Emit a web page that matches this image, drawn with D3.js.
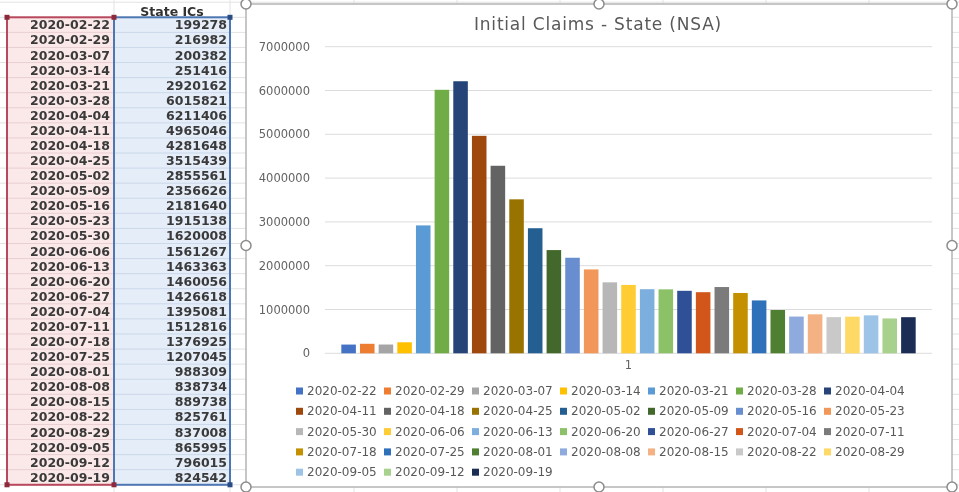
<!DOCTYPE html>
<html>
<head>
<meta charset="utf-8">
<script src="https://cdn.jsdelivr.net/npm/d3@7"></script>
<style>
    html, body { margin: 0; padding: 0; background: #fff; overflow: hidden; }
    #visualization svg { display: block; filter: blur(0.35px); }
</style>
</head>
<body>
<div id="visualization"></div>
<script>
// week ending dates (table rows and chart series)
const weeks = [
    "2020-02-22", "2020-02-29", "2020-03-07", "2020-03-14", "2020-03-21", "2020-03-28",
    "2020-04-04", "2020-04-11", "2020-04-18", "2020-04-25", "2020-05-02", "2020-05-09",
    "2020-05-16", "2020-05-23", "2020-05-30", "2020-06-06", "2020-06-13", "2020-06-20",
    "2020-06-27", "2020-07-04", "2020-07-11", "2020-07-18", "2020-07-25", "2020-08-01",
    "2020-08-08", "2020-08-15", "2020-08-22", "2020-08-29", "2020-09-05", "2020-09-12",
    "2020-09-19"
];

// State ICs, not seasonally adjusted
const stateICs = [
    199278, 216982, 200382, 251416, 2920162, 6015821,
    6211406, 4965046, 4281648, 3515439, 2855561, 2356626,
    2181640, 1915138, 1620008, 1561267, 1463363, 1460056,
    1426618, 1395081, 1512816, 1376925, 1207045, 988309,
    838734, 889738, 825761, 837008, 865995, 796015,
    824542
];

const categories = ["1"];
const yTicks = [0, 1000000, 2000000, 3000000, 4000000, 5000000, 6000000, 7000000];

// Excel office palette, one colour per series
const seriesColors = [
    "#4472C4", "#ED7D31", "#A5A5A5", "#FFC000", "#5B9BD5", "#70AD47",
    "#264478", "#9E480E", "#636363", "#997300", "#255E91", "#43682B",
    "#698ED0", "#F1975A", "#B7B7B7", "#FFCD33", "#7CAFDD", "#8CC168",
    "#2F4F96", "#D2561A", "#7B7B7B", "#C49000", "#2E70BA", "#4F7F30",
    "#8FAADC", "#F4B183", "#C9C9C9", "#FFD966", "#9DC3E6", "#A9D18E",
    "#1B2D55"
];

document.addEventListener('DOMContentLoaded', () => {
    const width = 959;
    const height = 492;

    const svg = d3.select("#visualization")
        .append("svg")
        .attr("width", width)
        .attr("height", height);

    // --- spreadsheet background gridlines ---
    const rowH = 15.08;
    const tableTop = 17.3;
    const grid = svg.append("g").attr("stroke", "#e2e2e2").attr("stroke-width", 1);
    for (let y = tableTop - rowH; y < height; y += rowH) {
        grid.append("line").attr("x1", 0).attr("x2", width).attr("y1", y).attr("y2", y);
    }
    [114, 230, 354, 457, 560, 663, 766, 869].forEach(x => {
        grid.append("line").attr("x1", x).attr("x2", x).attr("y1", 0).attr("y2", height);
    });

    // --- data table on the left ---
    const table = svg.append("g");
    const tableBottom = tableTop + rowH * weeks.length;

    table.append("rect")
        .attr("x", 7).attr("y", tableTop)
        .attr("width", 107).attr("height", tableBottom - tableTop)
        .attr("fill", "#fbe8e9");
    table.append("rect")
        .attr("x", 114).attr("y", tableTop)
        .attr("width", 116).attr("height", tableBottom - tableTop)
        .attr("fill", "#e5edf8");

    weeks.forEach((w, i) => {
        const y = tableTop + rowH * (i + 1);
        table.append("line").attr("x1", 7).attr("x2", 114).attr("y1", y).attr("y2", y)
            .attr("stroke", "#e8cfd2");
        table.append("line").attr("x1", 114).attr("x2", 230).attr("y1", y).attr("y2", y)
            .attr("stroke", "#cbd8ea");
    });

    table.append("rect")
        .attr("x", 7).attr("y", tableTop)
        .attr("width", 107).attr("height", tableBottom - tableTop)
        .attr("fill", "none").attr("stroke", "#b8485c").attr("stroke-width", 2);
    table.append("rect")
        .attr("x", 114).attr("y", tableTop)
        .attr("width", 116).attr("height", tableBottom - tableTop)
        .attr("fill", "none").attr("stroke", "#4d77b3").attr("stroke-width", 2);

    // selection handles
    [[7, "#8a2a3c"], [114, "#8a2a3c"], [230, "#2a4d85"]].forEach(([x, c]) => {
        [tableTop, tableBottom].forEach(y => {
            table.append("rect").attr("x", x - 2.5).attr("y", y - 2.5)
                .attr("width", 5).attr("height", 5).attr("fill", c);
        });
    });

    table.append("text")
        .attr("x", 172).attr("y", 11)
        .attr("text-anchor", "middle").attr("dominant-baseline", "central")
        .style("font", "bold 12.5px 'DejaVu Sans'").attr("fill", "#333")
        .text("State ICs");

    table.selectAll(".date")
        .data(weeks)
        .join("text")
        .attr("class", "date")
        .attr("x", 110)
        .attr("y", (d, i) => tableTop + rowH * (i + 0.5))
        .attr("text-anchor", "end").attr("dominant-baseline", "central")
        .style("font", "bold 12.5px 'DejaVu Sans'").attr("fill", "#3a3a3a")
        .text(d => d);

    table.selectAll(".val")
        .data(stateICs)
        .join("text")
        .attr("class", "val")
        .attr("x", 227)
        .attr("y", (d, i) => tableTop + rowH * (i + 0.5))
        .attr("text-anchor", "end").attr("dominant-baseline", "central")
        .style("font", "bold 12.5px 'DejaVu Sans'").attr("fill", "#3a3a3a")
        .text(d => d);

    // --- chart object ---
    const chart = { left: 246, top: 4, right: 952, bottom: 487 };

    svg.append("rect")
        .attr("x", chart.left).attr("y", chart.top)
        .attr("width", chart.right - chart.left).attr("height", chart.bottom - chart.top)
        .attr("fill", "#fff").attr("stroke", "#b4b4b4").attr("stroke-width", 1.5);

    const g = svg.append("g");

    const y = d3.scaleLinear().domain([0, 7000000]).range([353.3, 46.7]);

    const x0 = d3.scaleBand()
        .domain(categories)
        .range([325, 932])
        .paddingOuter(0.025);

    const x1 = d3.scaleBand()
        .domain(weeks)
        .range([0, x0.bandwidth()])
        .paddingInner(0.22)
        .paddingOuter(0.1);

    // gridlines
    g.selectAll(".grid")
        .data(yTicks)
        .join("line")
        .attr("class", "grid")
        .attr("x1", 325).attr("x2", 932)
        .attr("y1", d => y(d)).attr("y2", d => y(d))
        .attr("stroke", "#dcdcdc").attr("stroke-width", 1);

    // y axis labels
    const yAxis = d3.axisLeft(y).tickValues(yTicks).tickFormat(d3.format("d")).tickSize(0).tickPadding(0);
    g.append("g")
        .attr("transform", "translate(310,0)")
        .call(yAxis)
        .call(ax => ax.select(".domain").remove())
        .call(ax => ax.selectAll("text")
            .style("font", "11.5px 'DejaVu Sans'")
            .attr("fill", "#636363"));

    // bars
    g.append("g")
        .attr("transform", `translate(${x0("1")},0)`)
        .selectAll("rect")
        .data(weeks.map((w, i) => ({ week: w, value: stateICs[i], color: seriesColors[i] })))
        .join("rect")
        .attr("x", d => x1(d.week))
        .attr("y", d => y(d.value))
        .attr("width", x1.bandwidth())
        .attr("height", d => y(0) - y(d.value))
        .attr("fill", d => d.color);

    // category axis
    const xAxis = d3.axisBottom(x0).tickSize(0).tickPadding(0);
    g.append("g")
        .attr("transform", `translate(0,${y(0) + 8})`)
        .call(xAxis)
        .call(ax => ax.select(".domain").remove())
        .call(ax => ax.selectAll("text")
            .style("font", "11.5px 'DejaVu Sans'")
            .attr("fill", "#636363"));

    // title
    g.append("text")
        .attr("x", 598).attr("y", 24)
        .attr("text-anchor", "middle").attr("dominant-baseline", "central")
        .style("font", "17px 'DejaVu Sans'").style("letter-spacing", "0.8px")
        .attr("fill", "#595959")
        .text("Initial Claims - State (NSA)");

    // legend, 7 entries per row
    const legend = g.append("g");
    const item = legend.selectAll(".item")
        .data(weeks)
        .join("g")
        .attr("class", "item")
        .attr("transform", (d, i) => `translate(${296 + (i % 7) * 88},${391 + Math.floor(i / 7) * 20.3})`);

    item.append("rect")
        .attr("x", 0).attr("y", -3.5)
        .attr("width", 7).attr("height", 7)
        .attr("fill", (d, i) => seriesColors[i]);

    item.append("text")
        .attr("x", 11).attr("y", 0)
        .attr("dominant-baseline", "central")
        .style("font", "12px 'DejaVu Sans'").attr("fill", "#595959")
        .text(d => d);

    // chart selection handles
    const cx = (chart.left + chart.right) / 2;
    const cy = (chart.top + chart.bottom) / 2;
    const handles = [
        [chart.left, chart.top], [cx, chart.top], [chart.right, chart.top],
        [chart.left, cy], [chart.right, cy],
        [chart.left, chart.bottom], [cx, chart.bottom], [chart.right, chart.bottom]
    ];
    svg.append("g").selectAll("circle")
        .data(handles)
        .join("circle")
        .attr("cx", d => d[0]).attr("cy", d => d[1])
        .attr("r", 5)
        .attr("fill", "#fff").attr("stroke", "#8c8c8c").attr("stroke-width", 1.5);
});
</script>
</body>
</html>
